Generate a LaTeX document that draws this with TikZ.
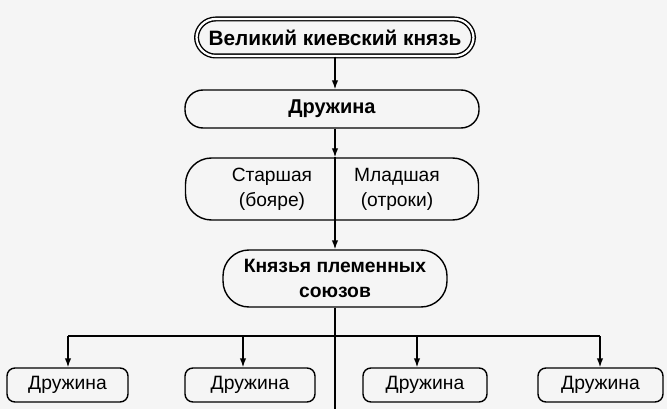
\documentclass[tikz,border=0pt]{standalone}
\usepackage{fontspec}
\setmainfont{Liberation Sans}
\usetikzlibrary{arrows.meta}
\begin{document}
\begin{tikzpicture}[x=1pt,y=-1pt,
  line width=1.4pt,
  every node/.style={font=\fontsize{19.3}{24}\selectfont, inner sep=0pt, align=center},
  bigbox/.style={draw, rounded corners=18pt, font=\fontsize{19.3}{25}\selectfont\bfseries},
  smallbox/.style={draw, rounded corners=8pt, minimum height=34pt},
  arr/.style={-{Latex[length=9pt,width=6.5pt]}}]
\fill[gray!8] (0,0) rectangle (667,409);
\useasboundingbox (0,0) rectangle (667,409);
\node[bigbox, double, double distance=2.2pt, minimum width=277pt, minimum height=37pt, rounded corners=19pt, font=\fontsize{20.8}{24}\selectfont\bfseries] (top) at (335,37.5) {Великий киевский князь};
\node[bigbox, minimum width=294pt, minimum height=38pt, font=\fontsize{20}{24}\selectfont\bfseries] (dr) at (332,109) {Дружина};
\node[draw, rounded corners=26pt, minimum width=293pt, minimum height=62pt] (st) at (332,189) {};
\node[font=\fontsize{19.2}{25}\selectfont] (stl) at (272,189) {Старшая\\(бояре)};
\node[font=\fontsize{19.2}{25}\selectfont] (str) at (397,189) {Младшая\\(отроки)};
\node[bigbox, rounded corners=26pt, minimum width=224pt, minimum height=57pt] (kn) at (335,278.5) {Князья племенных\\союзов};
\node[smallbox, minimum width=121pt] (b1) at (67.5,385) {Дружина};
\node[smallbox, minimum width=130pt] (b2) at (250,385) {Дружина};
\node[smallbox, minimum width=124pt] (b3) at (425,385) {Дружина};
\node[smallbox, minimum width=125pt] (b4) at (600.5,385) {Дружина};
\coordinate (j1) at (68,336);
\coordinate (j2) at (243,336);
\coordinate (j3) at (417,336);
\coordinate (j4) at (600,336);
\coordinate (bot) at (335,409);
\draw[arr] (top.south -| 335,0) -- (dr.north -| 335,0);
\draw[arr] (dr.south -| 335,0) -- (st.north -| 335,0);
\draw[arr] (st.north -| 335,0) -- (kn.north -| 335,0);
\draw (kn.south -| 335,0) -- (bot);
\draw (j1) -- (j4);
\draw[arr] (j1) -- (j1 |- b1.north);
\draw[arr] (j2) -- (j2 |- b2.north);
\draw[arr] (j3) -- (j3 |- b3.north);
\draw[arr] (j4) -- (j4 |- b4.north);
\end{tikzpicture}
\end{document}
